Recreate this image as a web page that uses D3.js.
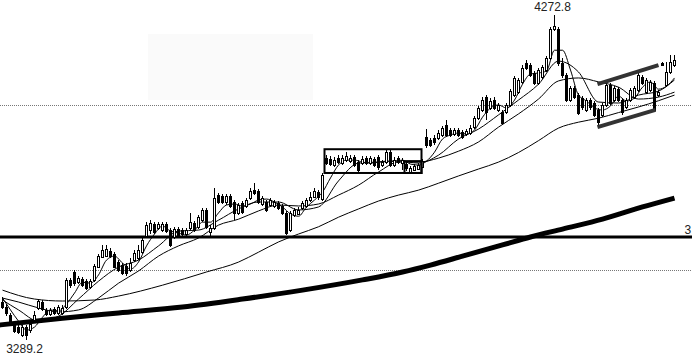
<!DOCTYPE html>
<html><head><meta charset="utf-8">
<script src="https://cdn.jsdelivr.net/npm/d3@7"></script>
<style>html,body{margin:0;padding:0;background:#fff;overflow:hidden}</style>
</head><body><svg id="c" width="692" height="359"></svg>
<script>
// ---- candle data (index 0..168) ----
const opens=[3403,3388,3363,3333,3327,3303,3327,3318,3348,3385,
3403,3379,3366,3382,3370,3370,3388,3470,3494,3463,
3473,3466,3448,3470,3509,3539,3542,3557,3548,3524,
3515,3512,3500,3530,3536,3554,3603,3621,3639,3627,
3621,3639,3621,3600,3624,3621,3609,3627,3642,3630,
3651,3682,3615,3627,3727,3724,3706,3724,3706,3673,
3703,3694,3718,3742,3739,3700,3706,3697,3694,3703,
3694,3673,3621,3666,3670,3688,3694,3712,3721,3736,
3715,3839,3836,3818,3839,3824,3833,3830,3842,3827,
3824,3839,3824,3836,3842,3818,3827,3857,3818,3839,
3824,3821,3797,3803,3806,3812,3903,3894,3900,3900,
3909,3939,3924,3912,3924,3918,3912,3915,3933,3960,
3985,4024,3991,4015,3985,3979,3979,4000,4030,4039,
4070,4127,4121,4097,4066,4085,4106,4142,4230,4230,
4127,4091,4015,4051,4030,4021,3985,4015,4006,3985,
3970,4000,4060,4015,4048,4015,3994,4015,4024,4045,
4085,4039,4045,4066,4030,4127,4060,4100,4121];
const closes=[3388,3370,3339,3315,3312,3327,3303,3336,3363,3406,
3382,3366,3379,3370,3388,3385,3470,3454,3460,3476,
3454,3445,3466,3512,3542,3560,3563,3542,3509,3500,
3491,3491,3521,3551,3560,3591,3636,3642,3615,3639,
3639,3618,3576,3624,3606,3609,3621,3645,3621,3660,
3682,3630,3627,3718,3706,3706,3724,3694,3673,3697,
3676,3712,3739,3733,3706,3718,3682,3712,3706,3688,
3673,3612,3673,3682,3682,3703,3712,3721,3739,3721,
3788,3824,3821,3833,3827,3839,3845,3839,3818,3803,
3836,3824,3839,3818,3812,3827,3857,3818,3833,3827,
3833,3809,3809,3815,3818,3830,3879,3879,3888,3915,
3930,3909,3909,3924,3909,3903,3921,3930,3960,3991,
4015,3979,4012,3991,4000,3945,4000,4042,4082,4076,
4112,4112,4091,4066,4106,4115,4142,4230,4239,4127,
4091,4015,4051,4024,3976,3994,4015,3994,3970,3948,
4000,4060,4006,4051,4015,3979,4015,4045,4051,4091,
4066,4076,4070,3985,4039,4121,4100,4130,4136];
const highs=[3418,3397,3370,3342,3333,3333,3333,3348,3376,3412,
3409,3385,3385,3388,3394,3394,3476,3476,3500,3482,
3479,3473,3473,3518,3548,3576,3576,3566,3554,3530,
3521,3521,3536,3560,3576,3600,3645,3651,3645,3645,
3645,3645,3627,3630,3630,3627,3627,3673,3648,3666,
3688,3688,3636,3748,3733,3730,3730,3730,3712,3703,
3709,3718,3748,3763,3745,3724,3712,3718,3712,3709,
3700,3679,3679,3688,3691,3709,3718,3736,3748,3742,
3794,3848,3845,3842,3848,3848,3857,3848,3848,3833,
3845,3845,3845,3842,3848,3833,3863,3863,3842,3845,
3839,3827,3815,3821,3824,3836,3927,3900,3909,3924,
3936,3954,3930,3930,3930,3924,3927,3939,3966,3997,
4024,4030,4021,4024,4006,3985,4006,4048,4088,4082,
4121,4136,4127,4103,4112,4121,4148,4236,4272.8,4236,
4142,4097,4057,4057,4036,4027,4021,4021,4012,3991,
4006,4066,4066,4057,4054,4021,4021,4051,4057,4097,
4091,4082,4076,4073,4045,4130,4130,4151,4151];
const lows=[3382,3360,3333,3309,3306,3297,3289.2,3309,3342,3379,
3376,3360,3360,3363,3363,3363,3382,3445,3451,3457,
3448,3439,3442,3463,3506,3536,3539,3536,3506,3494,
3485,3482,3494,3524,3530,3548,3597,3609,3609,3621,
3615,3612,3570,3594,3600,3603,3603,3621,3615,3624,
3645,3624,3603,3621,3700,3700,3697,3688,3651,3666,
3670,3688,3712,3727,3700,3694,3676,3691,3688,3682,
3666,3606,3615,3660,3666,3682,3688,3706,3718,3712,
3709,3818,3815,3812,3821,3818,3827,3824,3812,3797,
3818,3818,3818,3812,3803,3812,3821,3812,3812,3821,
3803,3800,3794,3800,3803,3809,3870,3873,3879,3894,
3903,3903,3903,3906,3903,3897,3906,3909,3927,3954,
3979,3954,3985,3985,3979,3939,3973,3994,4024,4033,
4063,4106,4085,4060,4060,4079,4100,4136,4224,4118,
4082,4009,4009,4018,3970,3985,3979,3985,3963,3939,
3963,3994,4000,4009,4009,3970,3988,4009,4018,4039,
4060,4033,4039,3979,4024,4118,4054,4094,4115];

// ---- moving averages (sample index -> value) ----
const ma5Idx=d3.range(0,169,2);
const ma5=[3415,3379,3345,3318,3327,3357,3379,3376,3397,3430,
3463,3460,3485,3530,3542,3521,3503,3524,3573,3609,
3633,3618,3612,3606,3621,3645,3645,3673,3697,3700,
3694,3700,3712,3715,3706,3691,3670,3663,3691,3712,
3736,3779,3818,3833,3833,3827,3824,3827,3830,3830,
3833,3821,3818,3830,3857,3897,3909,3915,3912,3924,
3963,3991,4000,3991,4015,4063,4094,4097,4103,4166,
4166,4106,4030,4012,3991,3985,3997,4027,4012,4021,
4054,4070,4048,4057,4082];
const maIdx=[0,4,9,14,19,24,29,34,39,44,49,54,59,64,69,74,79,84,89,94,99,104,109,114,119,124,129,134,139,144,149,154,159,164,168];
const ma10=[3409,3379,3345,3360,3412,3466,3509,3530,3573,3618,3621,3651,3685,3706,3706,3682,3691,3770,3824,3827,3830,3824,3848,3897,3927,3970,4015,4063,4133,4100,4009,4006,4030,4042,4076];
const ma20=[3415,3403,3385,3373,3379,3415,3460,3497,3542,3573,3597,3636,3654,3679,3697,3694,3700,3727,3757,3797,3827,3827,3839,3860,3888,3933,3973,4018,4073,4082,4070,4054,4018,4024,4039];
const ma60Idx=[0,8,15,23,29,40,51,59,64,69,74,79,84,89,94,99,104,109,114,119,124,129,134,139,144,149,154,159,164,168];
const ma60=[3439,3412,3406,3409,3421,3454,3494,3524,3554,3585,3609,3631,3660,3685,3709,3727,3742,3763,3785,3806,3827,3856,3892,3930,3948,3960,3977,3994,4013,4030];
const maLongIdx=[-1,15,29,45,60,75,90,100,107,115,125,132,140,150,160,168];
const maLong=[3333,3354,3370,3388,3412,3439,3470,3494,3515,3542,3576,3600,3624,3654,3691,3718];

// ---- reference levels and annotations ----
const gridLevels=[4000,3500];
const refLevel=3600;
const refLabel="3";
const boxes=[{i0:80.5,i1:104.75,hi:3866,lo:3794},{i0:100.5,i1:104.75,hi:3830,lo:3794}];
const channel=[{i0:148.75,v0:4063,i1:164,v1:4121},{i0:148.75,v0:3933,i1:163.25,v1:3985}];
const shade={i0:36.4,i1:77.6,hi:4215,lo:4015};

const W=692,H=359;
const x=d3.scaleLinear().domain([0,168]).range([2.5,674.5]);
const y=d3.scaleLinear().domain([3500,4000]).range([270,105]);
const svg=d3.select('#c');
svg.append('rect').attr('width',W).attr('height',H).attr('fill','#fff');
svg.append('rect').attr('x',x(shade.i0)).attr('y',y(shade.hi)).attr('width',x(shade.i1)-x(shade.i0))
  .attr('height',y(shade.lo)-y(shade.hi)).attr('fill','#fafafa');

gridLevels.forEach(v=>{
  const yy=Math.round(y(v))+0.5;
  svg.append('line').attr('x1',0).attr('x2',W).attr('y1',yy).attr('y2',yy)
    .attr('stroke','#777').attr('stroke-width',1).attr('stroke-dasharray','1,1');
});
{
  const yy=Math.round(y(refLevel));
  svg.append('line').attr('x1',0).attr('x2',W).attr('y1',yy).attr('y2',yy)
    .attr('stroke','#000').attr('stroke-width',3);
  svg.append('text').attr('x',684.5).attr('y',yy-3).text(refLabel)
    .attr('font-family','"Liberation Sans",Arial,sans-serif').attr('font-size',12).attr('fill','#222');
}

function maLine(idx,vals,w){
  const line=d3.line().x((d,k)=>x(idx[k])).y(d=>y(d)).curve(d3.curveMonotoneX);
  svg.append('path').attr('d',line(vals)).attr('fill','none').attr('stroke','#000').attr('stroke-width',w);
}
maLine(maLongIdx,maLong,5);
maLine(ma60Idx,ma60,1);
maLine(maIdx,ma20,1);
maLine(maIdx,ma10,1);
maLine(ma5Idx,ma5,1);

const g=svg.append('g').attr('shape-rendering','crispEdges');
closes.forEach((c,i)=>{
  const o=opens[i],h=highs[i],l=lows[i];
  const cx=x(i);
  g.append('line').attr('x1',cx).attr('x2',cx).attr('y1',Math.round(y(h))).attr('y2',Math.round(y(l)))
    .attr('stroke','#000').attr('stroke-width',1);
  const top=Math.round(y(Math.max(o,c))), bot=Math.round(y(Math.min(o,c)));
  const up=c>=o;
  g.append('rect').attr('x',cx-1).attr('y',top+0.5).attr('width',2).attr('height',Math.max(1,bot-top))
    .attr('fill',up?'#fff':'#000').attr('stroke','#000').attr('stroke-width',1);
});

boxes.forEach(b=>{
  svg.append('rect').attr('x',x(b.i0)).attr('y',y(b.hi)).attr('width',x(b.i1)-x(b.i0)).attr('height',y(b.lo)-y(b.hi))
    .attr('fill','none').attr('stroke','#000').attr('stroke-width',2);
});
channel.forEach(s=>{
  svg.append('line').attr('x1',x(s.i0)).attr('y1',y(s.v0)).attr('x2',x(s.i1)).attr('y2',y(s.v1))
    .attr('stroke','#333').attr('stroke-width',4);
});

const fmt=d3.format('.1f');
const hiMax=d3.max(highs), iMax=highs.indexOf(hiMax);
const loMin=d3.min(lows), iMin=lows.indexOf(loMin);
svg.append('text').attr('x',x(iMax)-2).attr('y',y(hiMax)-4).attr('text-anchor','middle').text(fmt(hiMax))
  .attr('font-family','"Liberation Sans",Arial,sans-serif').attr('font-size',12).attr('fill','#222');
svg.append('text').attr('x',x(iMin)-2).attr('y',y(loMin)+13.5).attr('text-anchor','middle').text(fmt(loMin))
  .attr('font-family','"Liberation Sans",Arial,sans-serif').attr('font-size',12).attr('fill','#222');
</script></body></html>
